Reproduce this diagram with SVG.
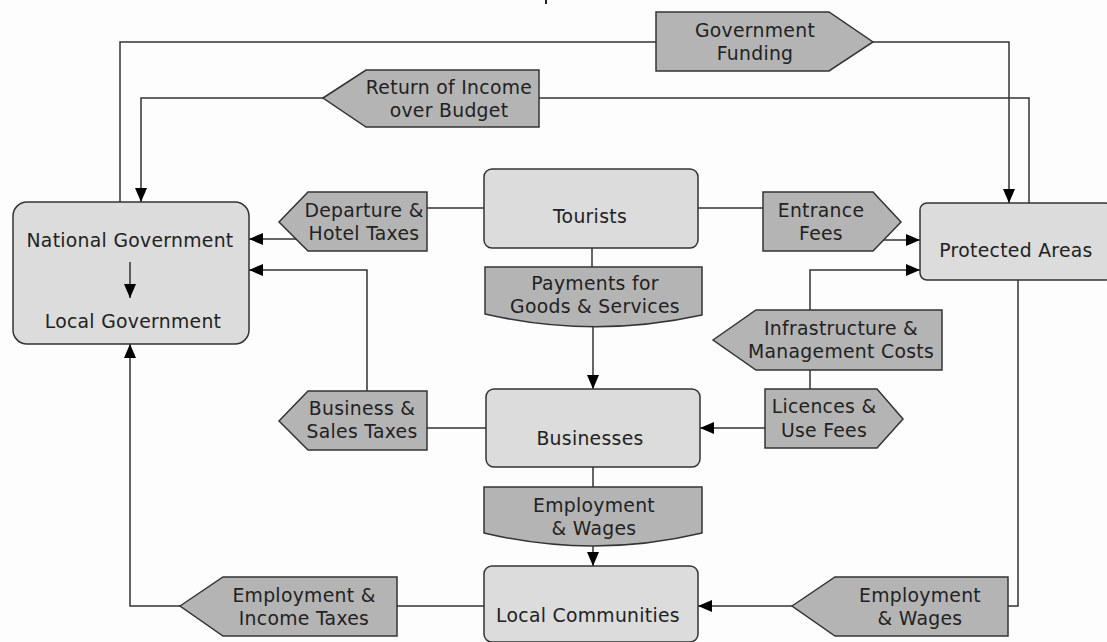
<svg xmlns="http://www.w3.org/2000/svg" width="1107" height="642" viewBox="0 0 1107 642">
<defs>
<marker id="ah" markerUnits="userSpaceOnUse" markerWidth="14" markerHeight="12" refX="14" refY="6" orient="auto">
<path d="M0,0 L14,6 L0,12 Z" fill="#000"/>
</marker>
<style>
.box{fill:#dcdcdc;stroke:#333;stroke-width:1.5}
.lab{fill:#b4b4b4;stroke:#333;stroke-width:1.5}
.ln{fill:none;stroke:#333;stroke-width:1.5}
.arr{fill:none;stroke:#333;stroke-width:1.5;marker-end:url(#ah)}
text{font-family:"DejaVu Sans","Verdana",sans-serif;font-size:18.8px;letter-spacing:0.3px;fill:#222;text-anchor:middle}
</style>
</defs>
<rect x="0" y="0" width="1107" height="642" fill="#fdfdfd"/>
<line x1="546" y1="0" x2="546" y2="4" stroke="#222" stroke-width="2"/>

<g id="connectors">
<path class="ln" d="M120,202 V42 H656"/>
<path class="arr" d="M873,42 H1009 V203"/>
<path class="ln" d="M1029,203 V98 H539"/>
<path class="arr" d="M323,98 H141 V202"/>
<path class="ln" d="M484,208 H427"/>
<path class="arr" d="M296,239 H249"/>
<path class="ln" d="M698,208 H763"/>
<path class="arr" d="M884,240 H920"/>
<path class="ln" d="M592,248 V267"/>
<path class="arr" d="M593,327 V389"/>
<path class="ln" d="M810,389 V370"/>
<path class="arr" d="M810,310 V270 H920"/>
<path class="arr" d="M765,428 H700"/>
<path class="ln" d="M486,428 H427"/>
<path class="arr" d="M367,391 V270 H249"/>
<path class="ln" d="M593,467 V487"/>
<path class="arr" d="M593,546 V566"/>
<path class="ln" d="M484,606 H397"/>
<path class="arr" d="M180,606 H130 V344"/>
<path class="ln" d="M1018,280 V606 H1008"/>
<path class="arr" d="M792,606 H698"/>
</g>

<g id="national-government">
<rect class="box" x="13" y="202" width="236" height="142" rx="14"/>
<text x="130" y="247">National Government</text>
<path class="arr" d="M130,262 V298"/>
<text x="133" y="328">Local Government</text>
</g>

<g id="tourists">
<rect class="box" x="484" y="169" width="214" height="79" rx="8"/>
<text x="590" y="223">Tourists</text>
</g>

<g id="protected-areas">
<rect class="box" x="920" y="203" width="192" height="77" rx="7"/>
<text x="1016" y="257">Protected Areas</text>
</g>

<g id="businesses">
<rect class="box" x="486" y="389" width="214" height="78" rx="8"/>
<text x="590" y="445">Businesses</text>
</g>

<g id="local-communities">
<rect class="box" x="484" y="566" width="214" height="76" rx="8"/>
<text x="588" y="622">Local Communities</text>
</g>

<g id="government-funding">
<polygon class="lab" points="656,12 829,12 873,42 829,71 656,71"/>
<text x="755" y="37">Government</text>
<text x="755" y="60">Funding</text>
</g>

<g id="return-of-income">
<polygon class="lab" points="323,98 366,70 539,70 539,127 366,127"/>
<text x="449" y="94">Return of Income</text>
<text x="449" y="117">over Budget</text>
</g>

<g id="departure-hotel-taxes">
<polygon class="lab" points="279,222 308,192 427,192 427,251 308,251"/>
<text x="364" y="217">Departure &amp;</text>
<text x="364" y="240">Hotel Taxes</text>
</g>

<g id="entrance-fees">
<polygon class="lab" points="763,192 873,192 901,222 873,251 763,251"/>
<text x="821" y="217">Entrance</text>
<text x="821" y="240">Fees</text>
</g>

<g id="payments">
<path class="lab" d="M485,267 H702 V315 Q593,339 485,314 Z"/>
<text x="595" y="290">Payments for</text>
<text x="595" y="313">Goods &amp; Services</text>
</g>

<g id="infrastructure-costs">
<polygon class="lab" points="713,340 756,310 942,310 942,370 756,370"/>
<text x="841" y="335">Infrastructure &amp;</text>
<text x="841" y="358">Management Costs</text>
</g>

<g id="licences-fees">
<polygon class="lab" points="765,389 877,389 903,419 877,448 765,448"/>
<text x="824" y="413">Licences &amp;</text>
<text x="824" y="437">Use Fees</text>
</g>

<g id="business-sales-taxes">
<polygon class="lab" points="279,421 308,391 427,391 427,450 308,450"/>
<text x="362" y="415">Business &amp;</text>
<text x="362" y="438">Sales Taxes</text>
</g>

<g id="employment-wages-mid">
<path class="lab" d="M484,487 H702 V533 Q593,559 484,533 Z"/>
<text x="594" y="512">Employment</text>
<text x="594" y="535">&amp; Wages</text>
</g>

<g id="employment-income-taxes">
<polygon class="lab" points="180,606 223,577 397,577 397,636 223,636"/>
<text x="304" y="602">Employment &amp;</text>
<text x="304" y="625">Income Taxes</text>
</g>

<g id="employment-wages-right">
<polygon class="lab" points="792,606 835,577 1008,577 1008,636 835,636"/>
<text x="920" y="602">Employment</text>
<text x="920" y="625">&amp; Wages</text>
</g>
</svg>
